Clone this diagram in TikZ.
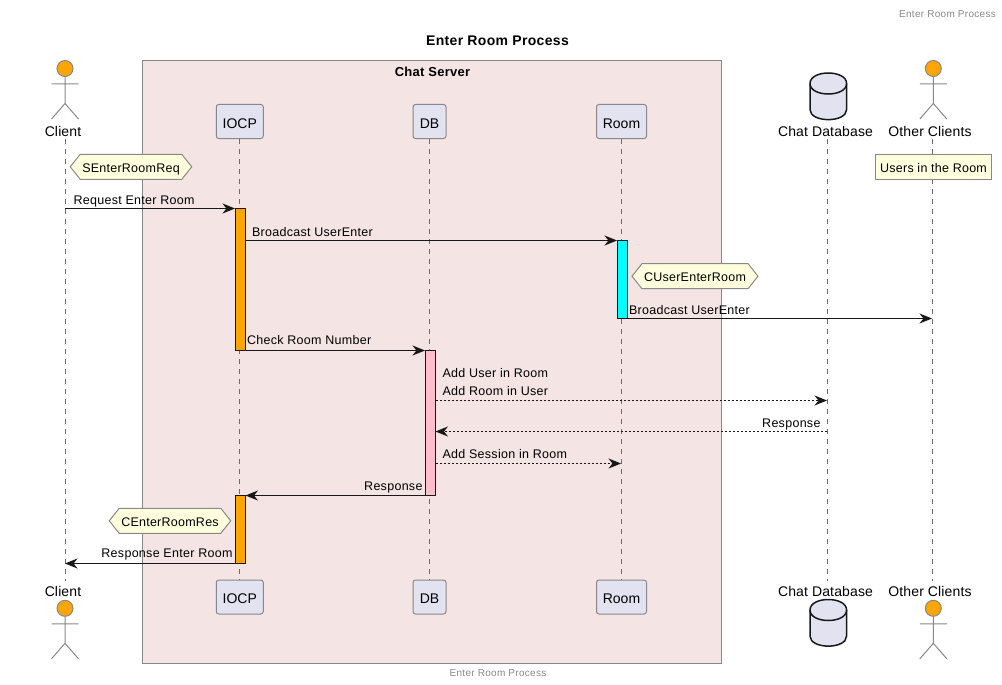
\documentclass[tikz,border=0pt]{standalone}
\usepackage{fontspec}
\setmainfont{Liberation Sans}
\usetikzlibrary{arrows.meta,positioning,shapes.symbols}
\definecolor{boxPink}{HTML}{F5E4E4}
\definecolor{partBlue}{HTML}{E2E2F0}
\definecolor{noteYellow}{HTML}{FEFFDD}
\definecolor{edgeGray}{HTML}{888888}
\definecolor{inkBlack}{HTML}{181818}
\definecolor{barOrange}{HTML}{FFA500}
\definecolor{barCyan}{HTML}{00FFFF}
\definecolor{barPink}{HTML}{FFC0CB}
\begin{document}
\begin{tikzpicture}[
            x=1pt,y=-1pt,
            partBox/.style={
                    draw=edgeGray,
                    fill=partBlue,
                    rectangle,
                    rounded corners=2.5pt,
                    line width=1pt,
                    minimum height=34pt,
                    inner sep=0pt,
                    text height=13.5pt,
                    text depth=0pt,
                    font=\fontsize{14}{16}\selectfont
                },
            actorName/.style={
                    inner sep=0pt,
                    font=\fontsize{14}{16}\selectfont\addfontfeature{LetterSpace=1}
                },
            lifeLine/.style={
                    draw=edgeGray!80!black,
                    line width=1pt,
                    dash pattern=on 5pt off 5pt
                },
            noteHex/.style={
                    draw=edgeGray,
                    fill=noteYellow,
                    signal,
                    signal to=west and east,
                    signal pointer angle=103,
                    line width=1pt,
                    minimum height=25pt,
                    inner sep=0pt,
                    text height=11.5pt,
                    text depth=1pt,
                    font=\fontsize{12.5}{14}\selectfont\addfontfeature{LetterSpace=2}
                },
            noteBox/.style={
                    draw=edgeGray,
                    fill=noteYellow,
                    rectangle,
                    line width=1pt,
                    minimum height=25pt,
                    inner sep=0pt,
                    text height=11.5pt,
                    text depth=1pt,
                    font=\fontsize{12.5}{14}\selectfont\addfontfeature{LetterSpace=2}
                },
            actBar/.style={
                    draw=inkBlack,
                    rectangle,
                    line width=1pt,
                    minimum width=10.5pt,
                    inner sep=0pt,
                    outer sep=0pt,
                    anchor=north
                },
            msg/.style={
                    -{Stealth[length=12.5pt,width=10pt,inset=4pt]},
                    color=inkBlack,
                    line width=1pt
                },
            msgDash/.style={
                    msg,
                    dash pattern=on 2pt off 2pt
                },
            msgLabel/.style={
                    text=black,
                    inner sep=0pt,
                    font=\fontsize{12.5}{18}\selectfont\addfontfeature{LetterSpace=2.3}
                },
            smallGray/.style={
                    text=edgeGray,
                    inner sep=0pt,
                    font=\fontsize{10}{12}\selectfont\addfontfeature{LetterSpace=3}
                },
            actorFig/.pic={
                    \node[circle, draw=edgeGray, fill=barOrange, line width=1pt, minimum size=16pt, inner sep=0pt] (-head) at (0,0) {};
                    \draw[edgeGray, line width=1pt] (-head.south) -- (0,35) (-13.5,15.5) -- (13.5,15.5)
                    (-13.5,50.5) -- (0,35) -- (13.5,50.5);
                },
            dbFig/.pic={
                    \draw[inkBlack, fill=partBlue, line width=1.5pt] (-18.3,0) .. controls (-18.3,-14) and (18.3,-14) .. (18.3,0)
                    -- (18.3,26) .. controls (18.3,39.5) and (-18.3,39.5) .. (-18.3,26) -- cycle;
                    \draw[inkBlack, line width=1.5pt] (-18.3,0) .. controls (-18.3,14) and (18.3,14) .. (18.3,0);
                }
            ]

            \useasboundingbox (0,0) rectangle (1002,685);

            % 1. Textos generales
            \node[smallGray] (headerText) at (947.5,14) {Enter Room Process};
            \node[inner sep=0pt, font=\fontsize{14}{16}\selectfont\bfseries\addfontfeature{LetterSpace=2.4}] (titleText) at (497.5,41) {Enter Room Process};
            \node[smallGray] (footerText) at (498,673) {Enter Room Process};

            % 2. Caja Chat Server
            \node[draw=edgeGray, fill=boxPink, line width=1pt, minimum width=579pt, minimum height=603pt, inner sep=0pt] (chatServer) at (432,362) {};
            \node[inner sep=0pt, font=\fontsize{13}{15}\selectfont\bfseries\addfontfeature{LetterSpace=2}] (chatServerText) at (432.5,71.5) {Chat Server};

            % 3. Actores y participantes superiores
            \pic (clientTop) at (65,68.5) {actorFig};
            \node[actorName] (clientTopText) at (63,131) {Client};
            \node[partBox, minimum width=47pt] (iocpTop) at (239.75,121.5) {IOCP};
            \node[partBox, minimum width=33pt] (dbTop) at (429.5,121.5) {DB};
            \node[partBox, minimum width=50pt] (roomTop) at (621.5,121.5) {Room};
            \pic (chatDbTop) at (828.3,83.5) {dbFig};
            \node[actorName] (chatDbTopText) at (825.5,131) {Chat Database};
            \pic (otherTop) at (933.3,68.5) {actorFig};
            \node[actorName] (otherTopText) at (930,131) {Other Clients};

            % 4. Actores y participantes inferiores
            \node[actorName] (clientBotText) at (63,591) {Client};
            \pic (clientBot) at (65,608.3) {actorFig};
            \node[partBox, minimum width=47pt] (iocpBot) at (239.75,597) {IOCP};
            \node[partBox, minimum width=33pt] (dbBot) at (429.5,597) {DB};
            \node[partBox, minimum width=50pt] (roomBot) at (621.5,597) {Room};
            \node[actorName] (chatDbBotText) at (825.5,591) {Chat Database};
            \pic (chatDbBot) at (828.3,610) {dbFig};
            \node[actorName] (otherBotText) at (930,591) {Other Clients};
            \pic (otherBot) at (933.3,608.3) {actorFig};

            % 5. Lineas de vida
            \coordinate (clientLifeA) at (65,139);
            \coordinate (clientLifeB) at (65,581);
            \coordinate (chatDbLifeA) at (827,139);
            \coordinate (chatDbLifeB) at (827,581);
            \coordinate (otherLifeA) at (932,139);
            \coordinate (otherLifeB) at (932,581);
            \draw[lifeLine] (clientLifeA) -- (clientLifeB);
            \draw[lifeLine] (iocpTop) -- (iocpBot);
            \draw[lifeLine] (dbTop) -- (dbBot);
            \draw[lifeLine] (roomTop) -- (roomBot);
            \draw[lifeLine] (chatDbLifeA) -- (chatDbLifeB);
            \draw[lifeLine] (otherLifeA) -- (otherLifeB);

            % 6. Notas
            \node[noteHex, minimum width=121.5pt] (noteReq) at (131,166.8) {SEnterRoomReq};
            \node[noteBox, minimum width=116.5pt] (noteUsers) at (933.5,166.8) {Users in the Room};
            \node[noteHex, minimum width=126pt] (noteUserEnter) at (695,276.2) {CUserEnterRoom};
            \node[noteHex, minimum width=121.5pt] (noteRes) at (170,520.8) {CEnterRoomRes};

            % 7. Barras de activacion
            \node[actBar, fill=barOrange, minimum height=142pt] (iocpBarA) at (240.25,208.5) {};
            \node[actBar, fill=barOrange, minimum height=68pt] (iocpBarB) at (240.25,495.5) {};
            \node[actBar, fill=barCyan, minimum height=78pt] (roomBar) at (622.25,240.5) {};
            \node[actBar, fill=barPink, minimum height=145pt] (dbBar) at (430.25,350.5) {};

            % --- MENSAJES ---
            \coordinate (clientReq) at (65,208.5);
            \coordinate (otherCast) at (932,318.5);
            \coordinate (chatDbAdd) at (827,400.5);
            \coordinate (chatDbRes) at (827,431.5);
            \coordinate (roomAdd) at (621,463.5);
            \coordinate (clientRes) at (65,563.5);

            \draw[msg] (clientReq) -- (iocpBarA.north west) node[pos=0, msgLabel, anchor=base west, xshift=8pt, yshift=4pt] {Request Enter Room};
            \draw[msg] (iocpBarA.east |- roomBar.north) -- (roomBar.north west) node[pos=0, msgLabel, anchor=base west, xshift=6pt, yshift=4pt] {Broadcast UserEnter};
            \draw[msg] (roomBar.south east) -- (otherCast) node[pos=0, msgLabel, anchor=base west, xshift=1pt, yshift=4.5pt] {Broadcast UserEnter};
            \draw[msg] (iocpBarA.south east) -- (dbBar.north west) node[pos=0, msgLabel, anchor=base west, xshift=1pt, yshift=6pt] {Check Room Number};
            \draw[msgDash] (dbBar.east |- chatDbAdd) -- (chatDbAdd) node[pos=0, msgLabel, anchor=base west, xshift=6.5pt, yshift=5pt, align=left] {Add User in Room\\Add Room in User};
            \draw[msgDash] (chatDbRes) -- (dbBar.east |- chatDbRes) node[pos=0, msgLabel, anchor=base east, xshift=-6pt, yshift=4.5pt] {Response};
            \draw[msgDash] (dbBar.east |- roomAdd) -- (roomAdd) node[pos=0, msgLabel, anchor=base west, xshift=6.5pt, yshift=5.5pt] {Add Session in Room};
            \draw[msg] (dbBar.south west) -- (iocpBarB.north east) node[pos=0, msgLabel, anchor=base east, xshift=-2pt, yshift=5pt] {Response};
            \draw[msg] (iocpBarB.south west) -- (clientRes) node[pos=0, msgLabel, anchor=base east, xshift=-2pt, yshift=6pt] {Response Enter Room};

        \end{tikzpicture}
\end{document}
